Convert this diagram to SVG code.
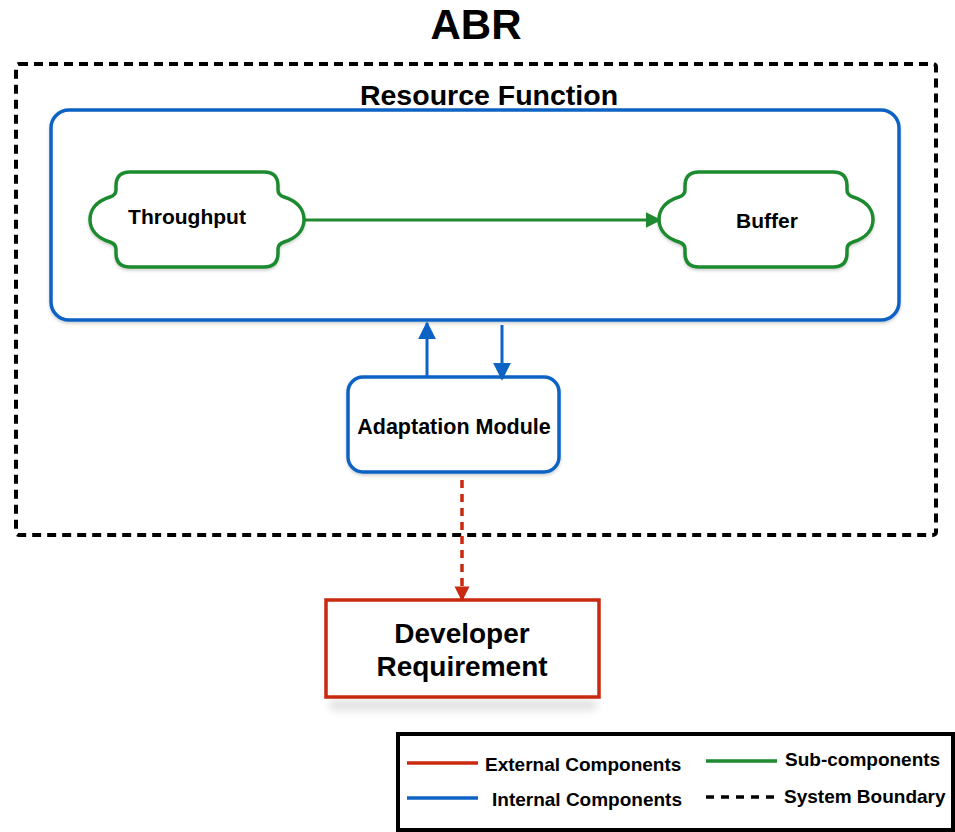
<svg xmlns="http://www.w3.org/2000/svg" width="955" height="832" viewBox="0 0 955 832">
  <style>
    text { font-family: "Liberation Sans", Arial, Helvetica, sans-serif; font-weight: bold; fill: #000; }
    .title { font-size: 42px; }
    .heading { font-size: 28.5px; }
    .label { font-size: 21px; }
    .module { font-size: 21.5px; }
    .big { font-size: 28px; }
    .legend { font-size: 19px; }
    .boundary { fill: none; stroke: #000; stroke-width: 4; stroke-dasharray: 9 6; }
    .internal { fill: #fff; stroke: #0c63c4; stroke-width: 3.5; }
    .sub { fill: #fff; stroke: #1f8a2f; stroke-width: 3.5; stroke-linejoin: round; }
    .external { fill: #fff; stroke: #c8290f; stroke-width: 3.5; }
    .blue-line { stroke: #0c63c4; stroke-width: 3; fill: none; }
    .green-line { stroke: #1f8a2f; stroke-width: 3; fill: none; }
    .red-dash { stroke: #c8290f; stroke-width: 3.5; fill: none; stroke-dasharray: 8 6; }
  </style>
  <defs>
    <marker id="arrow-blue" viewBox="0 0 10 10" refX="9" refY="5" markerWidth="6" markerHeight="6" orient="auto" markerUnits="strokeWidth">
      <path d="M0,0 L10,5 L0,10 Z" fill="#0c63c4"/>
    </marker>
    <marker id="arrow-green" viewBox="0 0 10 10" refX="9" refY="5" markerWidth="5.5" markerHeight="5.2" orient="auto" markerUnits="strokeWidth">
      <path d="M0,0 L10,5 L0,10 Z" fill="#1f8a2f"/>
    </marker>
    <marker id="arrow-red" viewBox="0 0 10 10" refX="9" refY="5" markerWidth="4.3" markerHeight="5.2" orient="auto" markerUnits="strokeWidth">
      <path d="M0,0 L10,5 L0,10 Z" fill="#c8290f"/>
    </marker>
    <filter id="soft" x="-20%" y="-200%" width="140%" height="500%">
      <feGaussianBlur stdDeviation="4"/>
    </filter>
    <filter id="drop" x="-10%" y="-10%" width="120%" height="130%">
      <feDropShadow dx="0" dy="2" stdDeviation="1.5" flood-color="#000" flood-opacity="0.18"/>
    </filter>
  </defs>

  <rect width="955" height="832" fill="#fff"/>

  <text class="title" x="476" y="39" text-anchor="middle">ABR</text>

  <!-- system boundary -->
  <g id="system-boundary">
    <rect class="boundary" x="16" y="64" width="920" height="471" rx="3"/>
  </g>

  <!-- resource function container -->
  <g id="resource-function">
    <text class="heading" x="489" y="105" text-anchor="middle">Resource Function</text>
    <rect class="internal" x="51" y="110" width="848" height="210" rx="18" filter="url(#drop)"/>
  </g>

  <g id="throughput">
    <path class="sub" filter="url(#drop)" d="M130,172 H264 Q278,172 278,186 V190 Q278,195 284,197 C300,202 304,212 304,219.5 C304,227 300,237 284,242 Q278,244 278,249 V253 Q278,267 264,267 H130 Q116,267 116,253 V249 Q116,244 110,242 C94,237 90,227 90,219.5 C90,212 94,202 110,197 Q116,195 116,190 V186 Q116,172 130,172 Z"/>
    <text class="label" x="187" y="224" text-anchor="middle">Throughput</text>
  </g>

  <g id="buffer">
    <path class="sub" filter="url(#drop)" d="M699,172 H833 Q847,172 847,186 V190 Q847,195 853,197 C869,202 873,212 873,219.5 C873,227 869,237 853,242 Q847,244 847,249 V253 Q847,267 833,267 H699 Q685,267 685,253 V249 Q685,244 679,242 C663,237 659,227 659,219.5 C659,212 663,202 679,197 Q685,195 685,190 V186 Q685,172 699,172 Z"/>
    <text class="label" x="767" y="228" text-anchor="middle">Buffer</text>
  </g>

  <g id="adaptation-module">
    <rect class="internal" x="348" y="377" width="211" height="95" rx="15" filter="url(#drop)"/>
    <text class="module" x="454" y="434" text-anchor="middle">Adaptation Module</text>
  </g>

  <g id="developer-requirement">
    <rect x="330" y="700" width="266" height="10" fill="#000" opacity="0.13" filter="url(#soft)"/>
    <rect class="external" x="326" y="600" width="273" height="97"/>
    <text class="big" x="462" y="643" text-anchor="middle">Developer</text>
    <text class="big" x="462" y="676" text-anchor="middle">Requirement</text>
  </g>

  <!-- connectors -->
  <g id="connectors">
    <line class="green-line" x1="304" y1="220" x2="660" y2="220" marker-end="url(#arrow-green)"/>
    <line class="blue-line" x1="427" y1="377" x2="427" y2="323" marker-end="url(#arrow-blue)"/>
    <line class="blue-line" x1="502" y1="325" x2="502" y2="379" marker-end="url(#arrow-blue)"/>
    <line class="red-dash" x1="462" y1="480" x2="462" y2="600" marker-end="url(#arrow-red)"/>
  </g>

  <!-- legend -->
  <g id="legend">
    <rect x="398" y="734" width="555" height="96" fill="#fff" stroke="#000" stroke-width="4"/>
    <line x1="407" y1="763" x2="478" y2="763" stroke="#c8290f" stroke-width="3.5"/>
    <text class="legend" x="485" y="771">External Components</text>
    <line x1="706" y1="761" x2="777" y2="761" stroke="#1f8a2f" stroke-width="3.5"/>
    <text class="legend" x="785" y="766">Sub-components</text>
    <line x1="407" y1="798" x2="478" y2="798" stroke="#0c63c4" stroke-width="3.5"/>
    <text class="legend" x="492" y="806">Internal Components</text>
    <line x1="706" y1="797" x2="777" y2="797" stroke="#000" stroke-width="3.5" stroke-dasharray="8 7"/>
    <text class="legend" x="784" y="803">System Boundary</text>
  </g>
</svg>
